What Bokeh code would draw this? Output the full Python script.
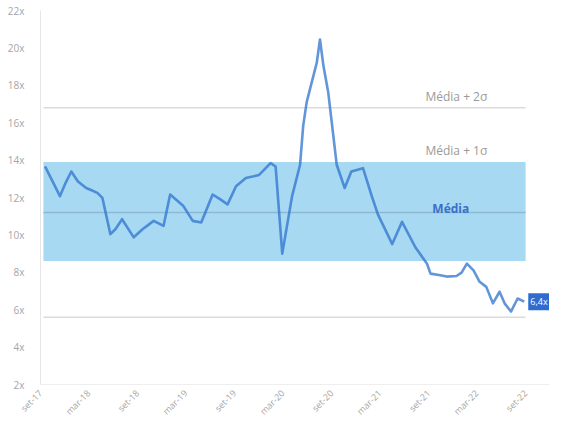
import math
import pandas as pd
from bokeh.plotting import figure
from bokeh.models import (FixedTicker, CustomJSTickFormatter, PrintfTickFormatter,
                          Label, Range1d)
from bokeh.embed import file_html
from bokeh.resources import INLINE

# ---- data ----
dates = ["2017-09-18", "2017-10-15", "2017-11-13", "2017-12-05", "2017-12-26", "2018-01-20",
         "2018-02-20", "2018-03-10", "2018-04-03", "2018-04-22", "2018-05-22", "2018-06-10",
         "2018-07-05", "2018-08-18", "2018-09-20", "2018-11-01", "2018-12-08", "2019-01-02",
         "2019-02-21", "2019-03-28", "2019-04-29", "2019-06-11", "2019-07-10", "2019-08-06",
         "2019-09-07", "2019-10-14", "2019-12-02", "2020-01-15", "2020-02-03", "2020-02-28",
         "2020-04-05", "2020-05-05", "2020-05-17", "2020-05-30", "2020-07-07", "2020-07-19",
         "2020-08-01", "2020-08-19", "2020-09-20", "2020-10-20", "2020-11-14", "2020-12-28",
         "2021-01-28", "2021-02-22", "2021-04-17", "2021-05-24", "2021-07-13", "2021-08-26",
         "2021-09-08", "2021-10-15", "2021-11-08", "2021-12-15", "2022-01-03", "2022-01-23",
         "2022-02-17", "2022-03-12", "2022-04-06", "2022-05-01", "2022-05-26", "2022-06-14",
         "2022-07-08", "2022-08-02", "2022-08-27"]
pe = [13.66, 12.9, 12.07, 12.8, 13.39, 12.86,
      12.51, 12.4, 12.25, 11.98, 10.04, 10.3,
      10.84, 9.87, 10.3, 10.75, 10.48, 12.16,
      11.54, 10.75, 10.66, 12.16, 11.9, 11.63,
      12.6, 13.04, 13.2, 13.84, 13.66, 9.0,
      12.07, 13.75, 15.86, 17.1, 19.21, 20.45,
      19.04, 17.63, 13.75, 12.51, 13.39, 13.57,
      12.16, 11.1, 9.51, 10.7, 9.34, 8.46,
      7.93, 7.84, 7.77, 7.8, 7.98, 8.46,
      8.1, 7.49, 7.22, 6.34, 6.96, 6.34,
      5.9, 6.6, 6.43]

band_start = "2017-09-12"
band_end = "2022-09-01"
mean_pe = 11.2
plus1 = 13.9
minus1 = 8.6
plus2 = 16.8
minus2 = 5.6
last_label = "6,4x"

tick_dates = ["2017-09-01", "2018-03-01", "2018-09-01", "2019-03-01", "2019-09-01",
              "2020-03-01", "2020-09-01", "2021-03-01", "2021-09-01", "2022-03-01",
              "2022-09-01"]
tick_labels = ["set-17", "mar-18", "set-18", "mar-19", "set-19", "mar-20", "set-20",
               "mar-21", "set-21", "mar-22", "set-22"]
y_ticks = [2, 4, 6, 8, 10, 12, 14, 16, 18, 20, 22]

# ---- build ----
x = pd.to_datetime(dates)
bs = pd.Timestamp(band_start)
be = pd.Timestamp(band_end)
tick_ms = [int(pd.Timestamp(d).value // 10**6) for d in tick_dates]

p = figure(width=549, height=425, x_axis_type="datetime",
           output_backend="svg", toolbar_location=None,
           min_border_left=40, min_border_right=0, min_border_top=10,
           min_border_bottom=36)
p.x_range = Range1d(pd.Timestamp("2017-09-01"), pd.Timestamp("2022-11-30"))
p.y_range = Range1d(2, 22)
p.outline_line_color = None
p.background_fill_color = "white"
p.border_fill_color = "white"
p.xgrid.grid_line_color = None
p.ygrid.grid_line_color = None

# band (mean +/- 1 sigma)
p.quad(left=[bs], right=[be], bottom=[minus1], top=[plus1],
       fill_color="#a7d9f2", fill_alpha=1.0, line_color=None)

# reference lines
for lvl, col in [(plus2, "#dcdcdc"), (minus2, "#dcdcdc"), (mean_pe, "#8fb8d4")]:
    p.line([bs, be], [lvl, lvl], line_color=col, line_width=1.5)

# series
p.line(x, pe, line_color="#2f72cc", line_alpha=0.75, line_width=2.6, line_join="round")

# text labels
lab_x = pd.Timestamp("2021-08-20")
p.add_layout(Label(x=lab_x, y=plus2, y_offset=3, text="Média + 2σ",
                   text_color="#9a9a9a", text_font_size="12px", text_font="Open Sans",
                   text_baseline="bottom"))
p.add_layout(Label(x=lab_x, y=plus1, y_offset=3, text="Média + 1σ",
                   text_color="#9a9a9a", text_font_size="12px", text_font="Open Sans",
                   text_baseline="bottom"))
p.add_layout(Label(x=pd.Timestamp("2021-09-15"), y=mean_pe, y_offset=4, text="Média",
                   text_color="#3b6fc8", text_font_size="12px", text_font="Open Sans",
                   text_font_style="bold", text_baseline="middle"))
p.add_layout(Label(x=x[-1], y=pe[-1], x_offset=4, text=last_label,
                   text_color="white", text_font_size="9px", text_font="Open Sans",
                   text_baseline="middle", background_fill_color="#2f6cd0",
                   background_fill_alpha=1.0, padding=2))

# axes
p.xaxis.ticker = FixedTicker(ticks=tick_ms)
p.xaxis.formatter = CustomJSTickFormatter(
    args=dict(tvals=tick_ms, tlabels=tick_labels),
    code="const i = tvals.indexOf(tick); return i >= 0 ? tlabels[i] : '';")
p.xaxis.major_label_orientation = math.pi / 4
p.xaxis.axis_line_color = "#eeeeee"
p.xaxis.major_tick_line_color = None
p.xaxis.minor_tick_line_color = None
p.xaxis.major_label_text_color = "#a5a5a5"
p.xaxis.major_label_text_font_size = "9px"
p.xaxis.major_label_text_font = "Open Sans"
p.xaxis.major_label_standoff = 1

p.yaxis.ticker = FixedTicker(ticks=y_ticks)
p.yaxis.formatter = PrintfTickFormatter(format="%dx")
p.yaxis.axis_line_color = "#e6e6e6"
p.yaxis.major_tick_line_color = None
p.yaxis.minor_tick_line_color = None
p.yaxis.major_label_text_color = "#a5a5a5"
p.yaxis.major_label_text_font_size = "10px"
p.yaxis.major_label_text_font = "Open Sans"
p.yaxis.major_label_standoff = 10

open("out.html", "w").write(file_html(p, INLINE))
